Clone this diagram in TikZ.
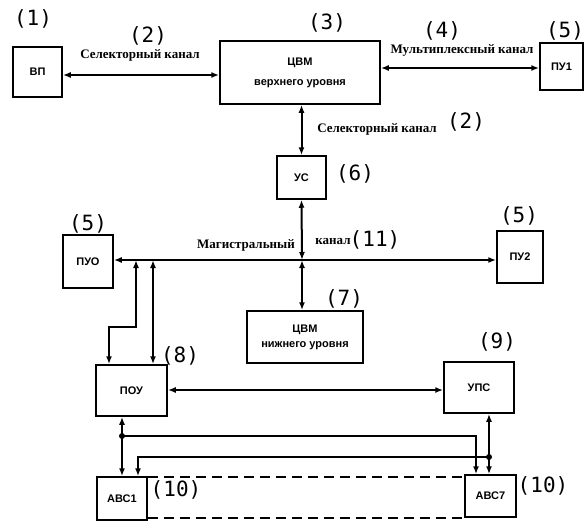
\documentclass[tikz,border=0pt]{standalone}
\usepackage{fontspec}
\setmainfont{Liberation Serif}
\newfontfamily\boxfont{Liberation Sans}
\newfontfamily\numfont{DejaVu Sans Mono}
\usetikzlibrary{arrows.meta}
\begin{document}
\begin{tikzpicture}[x=1pt,y=-1pt,
  box/.style={draw, line width=1.5pt, inner sep=0pt, font=\boxfont\bfseries\fontsize{11}{13}\selectfont, align=center},
  num/.style={font=\numfont\fontsize{21}{21}\selectfont, inner sep=0pt},
  lab/.style={font=\bfseries\fontsize{13}{13}\selectfont, inner sep=0pt},
  conn/.style={line width=2pt, {Latex[length=8pt,width=6pt]}-{Latex[length=8pt,width=6pt]}},
  oneway/.style={line width=2pt, -{Latex[length=8pt,width=6pt]}},
  dashline/.style={line width=1.5pt, dash pattern=on 10pt off 6pt},
  dot/.style={circle, fill, inner sep=0pt, minimum size=6pt}]
\useasboundingbox (0,0) rectangle (586,522);
% boxes
\node[box, minimum width=49pt, minimum height=50pt] (vp) at (37.5,72) {ВП};
\node[box, minimum width=160pt, minimum height=63pt, font=\boxfont\bfseries\fontsize{11}{20}\selectfont] (cvmv) at (300,72.5) {ЦВМ\\верхнего уровня};
\node[box, minimum width=43pt, minimum height=47pt] (pu1) at (561.5,66.5) {ПУ1};
\node[box, minimum width=49pt, minimum height=43pt] (us) at (301.5,177.5) {УС};
\node[box, minimum width=50pt, minimum height=53pt] (puo) at (88,261.5) {ПУО};
\node[box, minimum width=46pt, minimum height=52pt] (pu2) at (520,257) {ПУ2};
\node[box, minimum width=116pt, minimum height=52pt, font=\boxfont\bfseries\fontsize{11}{15}\selectfont] (cvmn) at (305,337) {ЦВМ\\нижнего уровня};
\node[box, minimum width=71pt, minimum height=51pt] (pou) at (131.5,390.5) {ПОУ};
\node[box, minimum width=70pt, minimum height=51pt] (ups) at (479,387.5) {УПС};
\node[box, minimum width=50pt, minimum height=43pt] (avs1) at (122,498.5) {АВС1};
\node[box, minimum width=51pt, minimum height=42pt] (avs7) at (490.5,496) {АВС7};
% number labels
\node[num] (n1) at (33,19) {(1)};
\node[num] (n2a) at (148,36) {(2)};
\node[num] (n3) at (327,23) {(3)};
\node[num] (n4) at (442,31) {(4)};
\node[num] (n5a) at (565,31) {(5)};
\node[num] (n2b) at (466,122) {(2)};
\node[num] (n6) at (355,174) {(6)};
\node[num] (n5b) at (88,224) {(5)};
\node[num] (n5c) at (519,216) {(5)};
\node[num] (n11) at (375,240) {(11)};
\node[num] (n7) at (344,299) {(7)};
\node[num] (n9) at (497,342) {(9)};
\node[num] (n8) at (180,356) {(8)};
\node[num] (n10a) at (176,490) {(10)};
\node[num] (n10b) at (543,486) {(10)};
% channel labels
\node[lab] (l1) at (140,55) {Селекторный канал};
\node[lab] (l2) at (462,50) {Мультиплексный канал};
\node[lab] (l3) at (377,129) {Селекторный канал};
\node[lab] (l4) at (246,245) {Магистральный};
\node[lab] (l5) at (333,242) {канал};
% helper coordinates
\coordinate (bus) at (302,260);
\coordinate (b1) at (136,260);
\coordinate (b2) at (153,260);
\coordinate (k1) at (136,327);
\coordinate (k2) at (109,327);
\coordinate (d1) at (122,436);
\coordinate (e1) at (476,436);
\coordinate (d2) at (489,457);
\coordinate (e2) at (138,457);
% connectors
\draw[conn] (vp.east |- 0,75) -- (cvmv.west |- 0,75);
\draw[conn] (cvmv.east |- 0,68) -- (pu1.west |- 0,68);
\draw[conn] (cvmv.south -| us.north) -- (us.north);
\draw[conn] (us.south) -- (bus);
\draw[conn] (bus) -- (cvmn.north -| bus);
\draw[conn] (puo.east |- bus) -- (pu2.west |- bus);
\draw[conn] (b1) -- (k1) -- (k2) -- (pou.north -| k2);
\draw[conn] (b2) -- (pou.north -| b2);
\draw[conn] (pou.east |- 0,390) -- (ups.west |- 0,390);
\draw[conn] (pou.south -| d1) -- (avs1.north -| d1);
\draw[oneway] (d1) -- (e1) -- (avs7.north -| e1);
\draw[conn] (ups.south -| d2) -- (avs7.north -| d2);
\draw[oneway] (d2) -- (e2) -- (avs1.north -| e2);
\node[dot] (dot1) at (d1) {};
\node[dot] (dot2) at (d2) {};
% dashed lines
\draw[dashline] (avs1.east |- 0,477) -- (avs7.west |- 0,477);
\draw[dashline] (avs1.east |- 0,518) -- (avs7.west |- 0,518);
\end{tikzpicture}
\end{document}
